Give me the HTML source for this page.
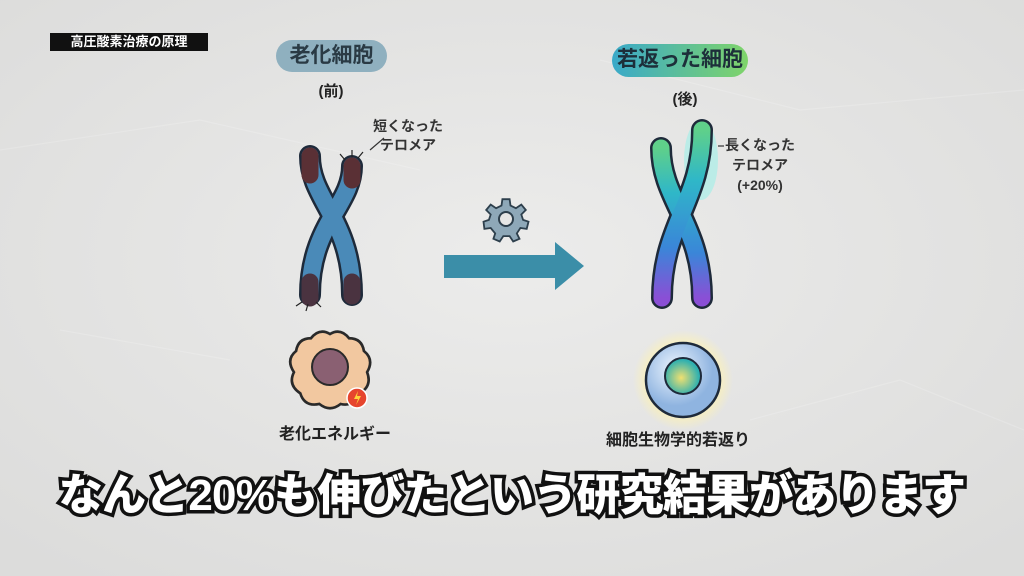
<!DOCTYPE html>
<html><head><meta charset="utf-8"><style>
body{margin:0;width:1024px;height:576px;overflow:hidden;background:#e6e6e5;font-family:"Liberation Sans","Noto Sans CJK JP",sans-serif;position:relative}
.abs{position:absolute}
.t{position:absolute;color:#222;white-space:nowrap}
</style></head><body>
<svg class="abs" style="left:0;top:0" width="1024" height="576">
<defs>
<radialGradient id="bg" cx="50%" cy="45%" r="70%"><stop offset="0" stop-color="#ececeb"/><stop offset="1" stop-color="#dcdcdb"/></radialGradient>
<linearGradient id="rg" x1="0" y1="0" x2="0" y2="1"><stop offset="0" stop-color="#5fd08a"/><stop offset="0.3" stop-color="#2fb7c8"/><stop offset="0.7" stop-color="#3a86d8"/><stop offset="1" stop-color="#8a4fd6"/></linearGradient>
<linearGradient id="pill" x1="0" y1="0" x2="1" y2="0"><stop offset="0" stop-color="#3aa9c9"/><stop offset="1" stop-color="#7fd46a"/></linearGradient>
<radialGradient id="glow"><stop offset="0.6" stop-color="#fff3b0"/><stop offset="1" stop-color="#fff3b0" stop-opacity="0"/></radialGradient>
<radialGradient id="nuc" cx="45%" cy="55%"><stop offset="0" stop-color="#f0e070"/><stop offset="1" stop-color="#2fb0b0"/></radialGradient>
<radialGradient id="cellb" cx="40%" cy="35%"><stop offset="0" stop-color="#eef6ff"/><stop offset="1" stop-color="#8fb4e0"/></radialGradient>
</defs>
<rect width="1024" height="576" fill="url(#bg)"/>
<g stroke="#fff" stroke-opacity="0.18" fill="none" stroke-width="1.2"><path d="M0 150 L200 120 L420 170"/><path d="M600 60 L800 110 L1024 90"/><path d="M750 420 L900 380 L1024 430"/><path d="M60 330 L230 360"/></g>
<rect x="276" y="40" width="111" height="32" rx="16" fill="#8fb0bf"/>
<rect x="612" y="44" width="136" height="33" rx="16.5" fill="url(#pill)"/>
<g fill="none" stroke-linecap="round">
<path d="M310 156 C310 200 352 220 352 295" stroke="#1e2a3a" stroke-width="22"/>
<path d="M352 166 C352 205 310 225 310 295" stroke="#1e2a3a" stroke-width="22"/>
<path d="M310 156 C310 200 352 220 352 295" stroke="#4a8ab8" stroke-width="17"/>
<path d="M352 166 C352 205 310 225 310 295" stroke="#4a8ab8" stroke-width="17"/>
<path d="M310 156 L310 175" stroke="#5a3035" stroke-width="17"/>
<path d="M352 166 L352 180" stroke="#5a3035" stroke-width="17"/>
<path d="M310 282 L310 298" stroke="#4a3340" stroke-width="17"/>
<path d="M352 282 L352 296" stroke="#4a3340" stroke-width="17"/>
</g>
<g stroke="#222" stroke-width="1.2"><path d="M345 160 l-5 -6 M352 157 l0 -7 M358 158 l5 -6 M302 302 l-6 4 M308 304 l-2 7 M316 302 l5 5"/></g>
<path d="M370 150 L384 138" stroke="#333" stroke-width="1.2"/>
<g transform="translate(330,369) scale(1.06) translate(-330,-369)">
<path d="M330 336 Q340 330 348 340 Q360 340 362 352 Q372 360 365 372 Q370 385 358 392 Q352 405 340 402 Q330 410 320 402 Q306 405 302 392 Q290 384 296 372 Q288 360 298 352 Q300 340 312 340 Q320 330 330 336Z" fill="#f2c8a0" stroke="#2a2a2a" stroke-width="2.5"/>
</g>
<circle cx="330" cy="367" r="18" fill="#8a6072" stroke="#2a2a2a" stroke-width="2"/>
<circle cx="357" cy="398" r="10" fill="#e6452e" stroke="#fff" stroke-width="1.5"/>
<path d="M358 391 L354 399 L358 399 L356 405 L361 396 L357 396Z" fill="#ffd23a"/>
<g transform="translate(506,219)" fill="#8ea8b8" stroke="#2d3f4c" stroke-width="2">
<path d="M-4 -22 L4 -22 L5 -15 L11 -12 L17 -16 L22 -10 L17 -5 L19 1 L25 3 L23 11 L16 10 L12 16 L15 22 L8 25 L4 19 L-3 19 L-7 25 L-14 22 L-12 16 L-17 10 L-24 11 L-25 3 L-19 1 L-17 -5 L-22 -10 L-17 -16 L-11 -12 L-5 -15Z" transform="scale(0.9)"/>
<circle r="7" fill="#e6e6e5"/>
</g>
<path d="M444 255 L555 255 L555 242 L584 266 L555 290 L555 278 L444 278Z" fill="#3b8ea8"/>
<ellipse cx="701" cy="160" rx="17" ry="40" fill="#9ff0e8" opacity="0.6"/>
<g fill="none" stroke-linecap="round">
<path d="M661 148 C661 200 702 225 702 298" stroke="#1e2a3a" stroke-width="22"/>
<path d="M702 130 C702 200 662 225 662 298" stroke="#1e2a3a" stroke-width="22"/>
<path d="M661 148 C661 200 702 225 702 298" stroke="url(#rg)" stroke-width="17"/>
<path d="M702 130 C702 200 662 225 662 298" stroke="url(#rg)" stroke-width="17"/>
</g>
<path d="M718 146 L724 146" stroke="#333" stroke-width="1.2"/>
<circle cx="683" cy="380" r="50" fill="url(#glow)"/>
<circle cx="683" cy="380" r="37" fill="url(#cellb)" stroke="#1e2a3a" stroke-width="2.5"/>
<circle cx="683" cy="376" r="18" fill="url(#nuc)" stroke="#1e2a3a" stroke-width="2"/>
</svg>
<div class="abs" style="left:50px;top:33px;width:158px;height:18px;background:#111;color:#fff;font-size:13px;font-weight:bold;line-height:18px;text-align:center">高圧酸素治療の原理</div>
<div class="t" style="left:276px;top:41px;width:111px;text-align:center;font-size:21px;font-weight:bold;line-height:30px;color:#2a3a44">老化細胞</div>
<div class="t" style="left:306px;top:80px;width:50px;text-align:center;font-size:15px;font-weight:bold">(前)</div>
<div class="t" style="left:373px;top:117px;font-size:14px;line-height:19px;text-align:center;font-weight:bold;color:#333">短くなった<br>テロメア</div>
<div class="t" style="left:279px;top:420px;font-size:16px;font-weight:bold">老化エネルギー</div>
<div class="t" style="left:612px;top:45px;width:136px;text-align:center;font-size:21px;font-weight:bold;line-height:30px;color:#1d2f3a">若返った細胞</div>
<div class="t" style="left:660px;top:88px;width:50px;text-align:center;font-size:15px;font-weight:bold">(後)</div>
<div class="t" style="left:725px;top:135px;font-size:14px;line-height:20px;text-align:center;font-weight:bold;color:#333">長くなった<br>テロメア<br>(+20%)</div>
<div class="t" style="left:606px;top:426px;font-size:16px;font-weight:bold">細胞生物学的若返り</div>
<div class="t" style="left:0;top:468px;width:1024px;text-align:center;font-size:44px;font-weight:900;color:#fff;-webkit-text-stroke:7px #111;paint-order:stroke fill;letter-spacing:-0.8px;line-height:56px">なんと20%も伸びたという研究結果があります</div>
</body></html>
